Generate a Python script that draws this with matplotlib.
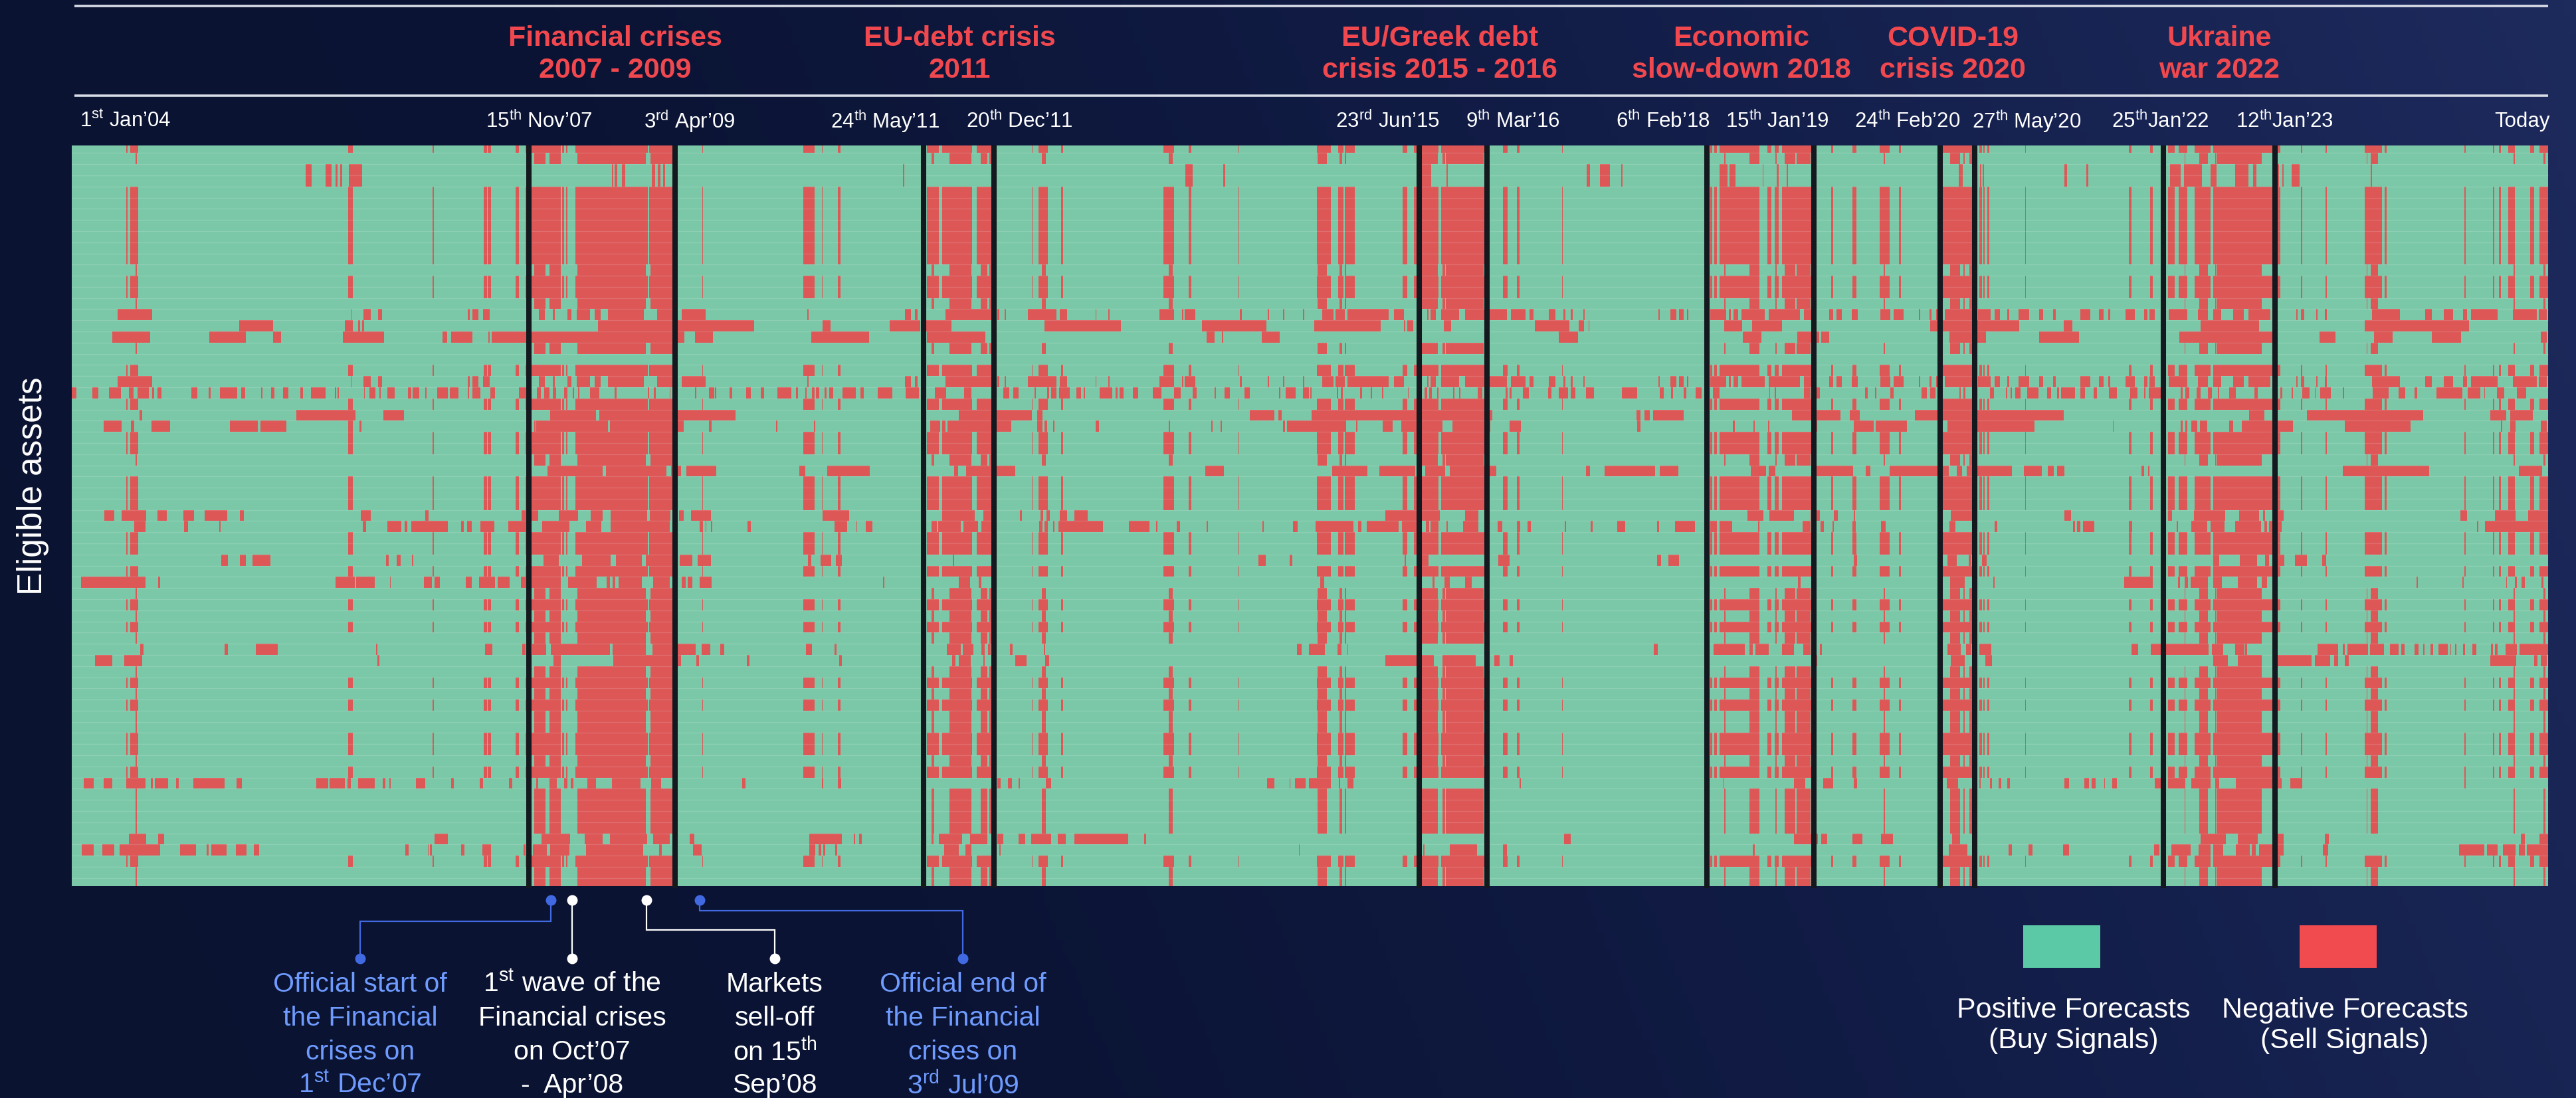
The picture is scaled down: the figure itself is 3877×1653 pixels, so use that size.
import numpy as np
import matplotlib
matplotlib.use('Agg')
import matplotlib.pyplot as plt
from matplotlib.colors import LinearSegmentedColormap
from matplotlib.patches import Rectangle

plt.rcParams['font.family'] = ['Liberation Sans', 'DejaVu Sans']
plt.rcParams['mathtext.fontset'] = 'custom'
plt.rcParams['mathtext.rm'] = 'Liberation Sans'

# Sell-signal runs per asset group, start/end pairs on the time index (0 = Jan'04, 3727 = today)
runs_a = [82,84, 88,100, 416,423, 543,545, 620,625, 626,631, 668,673, 683,736, 738,741, 744,746, 758,867, 869,909,
          949,950, 1101,1118, 1129,1130, 1153,1157, 1287,1305, 1310,1355, 1362,1389, 1445,1446, 1455,1469, 1489,1492,
          1643,1659, 1681,1685, 1756,1757, 1874,1895, 1906,1914, 1916,1931, 2003,2010, 2020,2057, 2061,2128, 2154,2161,
          2175,2179, 2243,2244, 2466,2469, 2472,2476, 2480,2540, 2552,2558, 2563,2569, 2574,2621, 2648,2651, 2680,2686,
          2721,2736, 2750,2753, 2813,2864, 2871,2875, 2877,2879, 2883,2886, 2940,2941, 3096,3100, 3128,3132, 3155,3165,
          3171,3184, 3195,3219, 3223,3324, 3355,3357, 3392,3394, 3451,3477, 3481,3484, 3601,3603, 3644,3646, 3653,3656,
          3667,3677, 3700,3706, 3714,3727]
runs_b = [96,98, 696,713, 719,736, 761,864, 871,909, 1294,1298, 1321,1354, 1368,1378, 1381,1385, 1460,1466, 1651,1657,
          1875,1889, 1908,1912, 1916,1918, 2032,2056, 2063,2067, 2068,2125, 2487,2489, 2525,2540, 2564,2566, 2578,2594,
          2596,2617, 2727,2729, 2827,2842, 2847,2849, 2856,2861, 3180,3181, 3202,3215, 3226,3227, 3228,3296, 3317,3320,
          3454,3455, 3460,3471, 3675,3677, 3720,3723]
runs_c = [352,361, 382,391, 397,400, 404,407, 417,437, 813,815, 817,821, 828,833, 873,878, 882,886, 890,893, 1251,1253,
          1676,1687, 1733,1736, 2032,2046, 2069,2071, 2280,2285, 2300,2315, 2332,2334, 2480,2492, 2495,2504, 2545,2546,
          2566,2569, 2581,2583, 2840,2846, 2872,2874, 2876,2878, 2999,3003, 3032,3035, 3158,3174, 3179,3206, 3219,3228,
          3256,3276, 3283,3288, 3317,3322, 3327,3329, 3341,3353, 3460,3462]
runs_d = [69,121, 420,421, 439,450, 461,467, 596,599, 603,612, 619,629, 703,712, 724,727, 746,752, 760,780, 787,796,
          807,861, 881,904, 918,954, 1107,1109, 1254,1263, 1269,1273, 1315,1385, 1393,1396, 1404,1406, 1439,1482,
          1487,1498, 1541,1542, 1560,1562, 1637,1659, 1671,1673, 1675,1691, 1758,1761, 1800,1802, 1823,1825, 1853,1855,
          1882,1899, 1902,1916, 1920,1982, 1990,2005, 2040,2042, 2045,2053, 2061,2088, 2097,2160, 2166,2188, 2194,2200,
          2223,2233, 2245,2248, 2256,2259, 2275,2277, 2388,2390, 2406,2415, 2419,2426, 2431,2433, 2466,2490, 2494,2497,
          2501,2508, 2513,2548, 2554,2601, 2607,2626, 2645,2651, 2656,2664, 2679,2688, 2722,2737, 2742,2757, 2780,2782,
          2796,2799, 2806,2808, 2819,2861, 2869,2888, 2894,2902, 2913,2916, 2930,2946, 2961,2967, 2982,2986, 3023,3038,
          3051,3058, 3065,3068, 3091,3105, 3119,3124, 3127,3135, 3156,3184, 3200,3215, 3223,3235, 3253,3269, 3276,3309,
          3348,3350, 3355,3360, 3378,3380, 3391,3394, 3462,3504, 3542,3552, 3570,3584, 3599,3605, 3611,3651, 3674,3710,
          3713,3725]
runs_e = [252,303, 411,423, 431,434, 437,440, 792,1027, 1130,1142, 1231,1277, 1285,1324, 1464,1579, 1701,1798, 1870,1970,
          2005,2007, 2010,2019, 2065,2076, 2202,2254, 2268,2276, 2283,2284, 2487,2514, 2529,2574, 2797,2931, 2998,3011,
          3204,3292, 3451,3608]
runs_f = [61,118, 207,262, 303,315, 408,470, 558,565, 571,603, 627,629, 632,922, 938,965, 1113,1200, 1287,1375, 1708,1720,
          1731,1733, 1791,1818, 2238,2267, 2515,2543, 2597,2630, 2633,2645, 2826,2881, 2961,3021, 3172,3313, 3383,3407,
          3465,3493, 3552,3596, 3716,3725]
runs_g = []
runs_h = [0,7, 31,40, 56,74, 86,93, 99,116, 121,124, 129,135, 180,189, 206,209, 223,249, 255,261, 285,287, 300,305, 318,326,
          344,348, 360,382, 396,398, 400,402, 440,441, 448,457, 463,465, 475,486, 506,511, 513,523, 532,534, 550,566, 569,582,
          596,598, 603,615, 630,637, 673,685, 700,706, 711,719, 724,729, 741,746, 754,756, 762,764, 780,794, 817,820, 867,869,
          876,879, 900,901, 938,940, 959,967, 968,970, 990,994, 1015,1022, 1037,1042, 1062,1083, 1090,1093, 1104,1106,
          1114,1118, 1120,1125, 1133,1136, 1140,1146, 1160,1180, 1187,1192, 1213,1235, 1255,1275, 1299,1316, 1343,1354,
          1402,1411, 1417,1425, 1449,1451, 1468,1471, 1474,1482, 1486,1502, 1512,1519, 1523,1525, 1547,1566, 1571,1574,
          1577,1583, 1597,1605, 1627,1640, 1659,1669, 1687,1693, 1720,1722, 1735,1743, 1765,1773, 1817,1819, 1827,1842,
          1853,1862, 1864,1866, 1904,1906, 1910,1913, 1939,1942, 1955,1957, 1972,1974, 2011,2012, 2036,2040, 2043,2047,
          2055,2057, 2079,2081, 2088,2090, 2116,2123, 2158,2161, 2164,2167, 2184,2193, 2222,2227, 2238,2252, 2256,2263,
          2279,2291, 2333,2356, 2390,2396, 2407,2410, 2426,2430, 2444,2453, 2470,2480, 2555,2556, 2563,2565, 2607,2617,
          2625,2631, 2699,2703, 2714,2716, 2737,2742, 2784,2792, 2797,2805, 2841,2843, 2847,2850, 2887,2893, 2911,2913,
          2918,2920, 2925,2933, 2943,2960, 2973,2979, 2988,2991, 2994,3015, 3023,3030, 3043,3048, 3066,3078, 3098,3109,
          3119,3121, 3126,3144, 3174,3177, 3181,3187, 3198,3204, 3215,3221, 3230,3232, 3247,3257, 3285,3290, 3324,3327,
          3341,3343, 3357,3368, 3376,3377, 3384,3400, 3418,3420, 3463,3487, 3502,3512, 3526,3530, 3559,3598, 3606,3625,
          3631,3632, 3650,3661, 3680,3694]
runs_i = [102,106, 338,427, 469,500, 720,789, 794,999, 1335,1445, 1453,1461, 1773,1810, 1816,1821, 1866,2138, 2355,2361,
          2367,2375, 2380,2426, 2589,2662, 2676,2691, 2774,2998, 3277,3300, 3364,3539, 3640,3664, 3670,3704]
runs_j = [48,75, 89,94, 120,148, 238,280, 284,323, 416,423, 433,436, 696,698, 699,807, 810,921, 959,963, 1060,1062,
          1117,1119, 1292,1307, 1310,1315, 1318,1414, 1453,1461, 1464,1468, 1477,1479, 1541,1546, 1651,1653, 1715,1717,
          1729,1731, 1823,1826, 1829,1918, 1933,1935, 1973,1988, 2001,2063, 2078,2135, 2164,2181, 2356,2361, 2500,2503,
          2531,2533, 2553,2555, 2620,2627, 2682,2712, 2715,2762, 2823,2954, 3072,3073, 3174,3177, 3181,3184, 3190,3199,
          3203,3214, 3247,3253, 3266,3343, 3421,3520, 3656,3658, 3670,3678, 3716,3725]
runs_k = [716,799, 804,895, 902,917, 925,970, 1095,1104, 1137,1201, 1328,1334, 1346,1420, 1706,1734, 1897,1950, 1968,2022,
          2037,2067, 2074,2144, 2279,2285, 2307,2383, 2390,2418, 2527,2550, 2554,2564, 2625,2681, 2700,2707, 2736,2825,
          2837,2845, 2852,2920, 2938,2965, 2974,2983, 2988,2999, 3115,3119, 3125,3127, 3418,3548, 3683,3718]
runs_l = [49,64, 75,112, 129,143, 168,184, 200,234, 253,259, 435,450, 532,537, 677,702, 733,762, 781,799, 811,866, 870,901,
          914,921, 932,962, 1130,1170, 1310,1359, 1372,1385, 1427,1430, 1458,1462, 1467,1472, 1487,1498, 1509,1529,
          1977,2059, 2097,2117, 2522,2546, 2555,2592, 2617,2631, 2652,2658, 2682,2684, 2828,2861, 2999,3009, 3155,3161,
          3194,3241, 3262,3292, 3298,3301, 3317,3329, 3595,3605, 3647,3678, 3697,3727]
runs_m = [94,111, 169,175, 222,224, 438,443, 475,496, 501,505, 511,566, 586,590, 595,602, 615,636, 657,685, 708,749, 774,797,
          811,900, 945,950, 954,955, 962,964, 1017,1022, 1148,1167, 1181,1182, 1195,1205, 1294,1302, 1304,1338, 1342,1364,
          1369,1385, 1456,1461, 1464,1469, 1477,1479, 1485,1552, 1591,1622, 1632,1634, 1663,1668, 1708,1710, 1792,1794,
          1838,1845, 1872,1929, 1936,1941, 1949,1997, 2002,2025, 2038,2043, 2045,2057, 2069,2071, 2094,2117, 2146,2153,
          2175,2180, 2191,2196, 2247,2249, 2286,2289, 2326,2338, 2386,2389, 2413,2443, 2466,2476, 2480,2499, 2538,2540,
          2605,2617, 2632,2637, 2650,2652, 2680,2685, 2723,2730, 2826,2835, 2894,2898, 3012,3015, 3018,3023, 3027,3044,
          3096,3101, 3168,3170, 3190,3214, 3219,3240, 3256,3295, 3300,3304, 3307,3326, 3620,3622, 3632,3727]
runs_n = [225,235, 253,262, 272,299, 473,477, 489,495, 512,514, 710,733, 768,811, 819,858, 864,909, 915,934, 942,962,
          1108,1113, 1127,1143, 1150,1159, 1326,1328, 1786,1797, 1833,1837, 2006,2008, 2032,2042, 2147,2164, 2386,2392,
          2403,2419, 2682,2687, 2823,2837, 2855,2859, 2875,2882, 3223,3232, 3263,3289, 3301,3307, 3317,3330, 3346,3364,
          3387,3393]
runs_o = [14,111, 130,133, 397,426, 428,456, 479,480, 530,542, 546,554, 593,602, 613,637, 641,659, 676,736, 747,790, 805,810,
          814,818, 823,858, 875,900, 918,924, 927,934, 945,963, 1221,1223, 1335,1352, 1365,1369, 1879,1885, 2048,2051,
          2066,2074, 2097,2107, 2598,2602, 2827,2849, 2892,2894, 3089,3132, 3170,3173, 3180,3185, 3189,3215, 3223,3236,
          3260,3289, 3296,3304, 3529,3531, 3598,3600, 3664,3665, 3677,3680, 3687,3692, 3717,3720]
runs_p = [103,108, 230,235, 277,310, 458,460, 622,633, 678,683, 693,714, 721,810, 814,864, 874,939, 948,961, 976,982,
          1105,1114, 1148,1151, 1317,1338, 1341,1357, 1369,1374, 1379,1383, 1412,1416, 1463,1465, 1844,1851, 1862,1886,
          1905,1911, 1920,1921, 2381,2387, 2471,2518, 2525,2530, 2534,2554, 2574,2592, 2606,2617, 2631,2634, 2823,2843,
          2851,2859, 2871,2889, 3100,3110, 3129,3216, 3221,3238, 3256,3270, 3271,3274, 3380,3411, 3418,3421, 3425,3456,
          3459,3480, 3489,3502, 3506,3511, 3526,3532, 3539,3541, 3550,3554, 3562,3576, 3580,3581, 3587,3589, 3599,3602,
          3613,3619, 3641,3644, 3647,3651, 3663,3680, 3684,3727]
runs_q = [35,61, 79,106, 460,463, 725,736, 815,917, 940,944, 1016,1020, 1155,1159, 1325,1330, 1335,1353, 1372,1374,
          1420,1437, 1465,1471, 1977,2050, 2063,2113, 2141,2149, 2164,2169, 2622,2627, 2828,2849, 2880,2890, 3223,3245,
          3260,3296, 3317,3371, 3376,3399, 3405,3411, 3421,3427, 3640,3679, 3706,3711, 3716,3725]
runs_r = [18,33, 48,61, 82,111, 119,122, 125,145, 157,161, 183,230, 248,256, 368,386, 388,411, 415,420, 431,456, 468,472,
          478,480, 518,532, 571,575, 614,619, 658,663, 699,702, 719,730, 741,746, 751,755, 776,789, 813,856, 872,887,
          1009,1014, 1129,1131, 1153,1158, 1393,1398, 1409,1415, 1425,1427, 1466,1474, 1799,1810, 1833,1834, 1841,1857,
          1862,1895, 1907,1909, 1920,1929, 2179,2181, 2486,2487, 2592,2609, 2618,2626, 2636,2651, 2682,2687, 2822,2839,
          2871,2873, 2887,2890, 2900,2904, 2913,2917, 2999,3006, 3029,3036, 3040,3046, 3059,3060, 3071,3078, 3135,3144,
          3155,3181, 3190,3219, 3226,3232, 3257,3326, 3339,3357, 3601,3603]
runs_s = [86,112, 130,139, 546,566, 707,750, 772,799, 810,866, 875,900, 930,937, 1110,1159, 1177,1179, 1185,1189, 1294,1297,
          1305,1340, 1352,1378, 1393,1402, 1425,1435, 1444,1474, 1484,1496, 1509,1590, 1614,1617, 2246,2256, 2592,2628,
          2633,2642, 2680,2695, 2723,2741, 2830,2842, 3204,3242, 3260,3290, 3317,3329, 3391,3397, 3686,3692, 3714,3727]
runs_t = [15,33, 46,64, 72,133, 163,187, 203,206, 210,233, 247,263, 274,282, 502,507, 536,537, 539,542, 586,591, 618,631,
          680,683, 694,715, 720,749, 774,860, 884,888, 935,948, 1110,1119, 1124,1128, 1131,1134, 1149,1152, 1313,1335,
          1345,1354, 1396,1398, 1847,1848, 2034,2036, 2074,2115, 2154,2160, 2530,2533, 2825,2853, 2915,2920, 2945,2951,
          2997,3006, 3134,3142, 3160,3189, 3201,3219, 3223,3238, 3257,3278, 3281,3287, 3292,3329, 3388,3396, 3593,3631,
          3635,3651, 3659,3678, 3683,3692, 3695,3727]

# Which group each of the 67 assets belongs to, top to bottom
row_groups = ['a', 'b', 'c', 'c', 'a', 'a', 'a', 'a', 'a', 'a', 'a', 'b', 'a', 'a', 'b', 'd', 'e', 'f', 'b', 'g',
              'a', 'd', 'h', 'a', 'i', 'j', 'a', 'a', 'b', 'k', 'a', 'a', 'a', 'l', 'm', 'a', 'a', 'n', 'a', 'o',
              'b', 'a', 'b', 'a', 'b', 'p', 'q', 'b', 'a', 'b', 'a', 'b', 'b', 'a', 'a', 'b', 'a', 'r', 'b', 'b',
              'b', 'b', 's', 't', 'a', 'b', 'b']

# Regime change dates on the same time index
regime_dates = [688, 908, 1282, 1388, 2028, 2130, 2461, 2622, 2812, 2864, 3148, 3316]

crisis_titles = ['Financial crises\n2007 - 2009', 'EU-debt crisis\n2011', 'EU/Greek debt\ncrisis 2015 - 2016',
                 'Economic\nslow-down 2018', 'COVID-19\ncrisis 2020', 'Ukraine\nwar 2022']
date_labels = [r'1$^{\mathrm{st}}$ Jan’04', r'15$^{\mathrm{th}}$ Nov’07', r'3$^{\mathrm{rd}}$ Apr’09',
               r'24$^{\mathrm{th}}$ May’11', r'20$^{\mathrm{th}}$ Dec’11', r'23$^{\mathrm{rd}}$ Jun’15',
               r'9$^{\mathrm{th}}$ Mar’16', r'6$^{\mathrm{th}}$ Feb’18', r'15$^{\mathrm{th}}$ Jan’19',
               r'24$^{\mathrm{th}}$ Feb’20', r'27$^{\mathrm{th}}$ May’20', r'25$^{\mathrm{th}}$Jan’22',
               r'12$^{\mathrm{th}}$Jan’23', 'Today']
note_labels = [['Official start of', 'the Financial', 'crises on', r'1$^{\mathrm{st}}$ Dec’07'],
               [r'1$^{\mathrm{st}}$ wave of the', 'Financial crises', 'on Oct’07', '-  Apr’08'],
               ['Markets', 'sell-off', r'on 15$^{\mathrm{th}}$', 'Sep’08'],
               ['Official end of', 'the Financial', 'crises on', r'3$^{\mathrm{rd}}$ Jul’09']]
legend_labels = ['Positive Forecasts\n(Buy Signals)', 'Negative Forecasts\n(Sell Signals)']

groups = {'a': runs_a, 'b': runs_b, 'c': runs_c, 'd': runs_d, 'e': runs_e, 'f': runs_f, 'g': runs_g,
          'h': runs_h, 'i': runs_i, 'j': runs_j, 'k': runs_k, 'l': runs_l, 'm': runs_m, 'n': runs_n,
          'o': runs_o, 'p': runs_p, 'q': runs_q, 'r': runs_r, 's': runs_s, 't': runs_t}

W, H = 3877, 1653
GREEN, RED = '#7BC8A8', '#DD5757'
KEY_GREEN, KEY_RED = '#5BC9A6', '#F14A4F'
TITLE_RED = '#F0484E'
BLUE, LIGHT_BLUE = '#4169E1', '#6F9BFF'

fig = plt.figure(figsize=(W / 100, H / 100), dpi=100)

# Background gradient, dark on the left, lighter top right
bg = fig.add_axes([0, 0, 1, 1], zorder=0)
xx, yy = np.meshgrid(np.linspace(0, 1, 400), np.linspace(0, 1, 200))
bg_cmap = LinearSegmentedColormap.from_list('bg', ['#0A1330', '#0B1434', '#121D48', '#1D2A5C'])
bg.imshow(0.85 * xx + 0.15 * (1 - yy), cmap=bg_cmap, aspect='auto', origin='upper', vmin=0, vmax=1)
bg.axis('off')

# Heatmap
ax = fig.add_axes([108 / W, 1 - 1334 / H, 3730 / W, 1115 / H], zorder=1)
ax.set_facecolor('white')
n_rows = len(row_groups)
for i, name in enumerate(row_groups):
    ax.broken_barh([(0, 3727)], (i, 1), facecolor=GREEN, linewidth=0)
    flat = groups[name]
    spans = [(flat[k], flat[k + 1] - flat[k]) for k in range(0, len(flat), 2)]
    if spans:
        ax.broken_barh(spans, (i, 1), facecolor=RED, linewidth=0)
ax.hlines(np.arange(1, n_rows), 0, 3727, color='white', lw=0.9, alpha=0.14)
ax.vlines(regime_dates, 0.32, n_rows - 0.1, color='#14191F', lw=5.8, clip_on=False, zorder=5)
ax.set_xlim(0, 3730)
ax.set_ylim(66.73, 0.32)
ax.axis('off')

# Everything else sits on a full figure overlay in pixels
ov = fig.add_axes([0, 0, 1, 1], zorder=2)
ov.set_xlim(0, W)
ov.set_ylim(H, 0)
ov.axis('off')
ov.patch.set_alpha(0)

ov.plot([112, 3835], [9, 9], color='#D8DCE6', lw=2.6, solid_capstyle='butt')
ov.plot([112, 3835], [144, 144], color='#D8DCE6', lw=2.6, solid_capstyle='butt')

title_x = [926, 1444, 2167, 2621, 2939, 3340]
for x, label in zip(title_x, crisis_titles):
    ov.text(x, 82, label, color=TITLE_RED, fontsize=31, fontweight='bold', ha='center', va='center', linespacing=1.27)

date_x = [189, 811, 1038, 1332, 1534, 2088, 2277, 2503, 2675, 2871, 3050, 3251, 3438, 3796]
for x, label in zip(date_x, date_labels):
    ov.text(x, 183, label, color='white', fontsize=22.5, ha='center', va='center')

ov.text(50, 732, 'Eligible assets', color='white', fontsize=37, rotation=90, ha='center', va='center')

# Call-outs from the chart to the notes
paths = [([829, 829, 542, 542], [1355, 1387, 1387, 1443], BLUE),
         ([861, 861], [1355, 1443], 'white'),
         ([973, 973, 1166, 1166], [1355, 1400, 1400, 1443], 'white'),
         ([1053, 1053, 1449, 1449], [1355, 1371, 1371, 1443], BLUE)]
for xs, ys, color in paths:
    ov.plot(xs, ys, color=color, lw=1.6, solid_joinstyle='miter')
    ov.plot([xs[0], xs[-1]], [ys[0], ys[-1]], 'o', color=color, ms=11.5, mew=0)

note_x = [542, 861, 1166, 1449]
note_colors = [LIGHT_BLUE, 'white', 'white', LIGHT_BLUE]
note_y = [1482, 1533, 1584, 1634]
for x, lines, color in zip(note_x, note_labels, note_colors):
    for y, line in zip(note_y, lines):
        ov.text(x, y, line, color=color, fontsize=29.5, ha='center', va='center')

# Legend
ov.add_patch(Rectangle((3045, 1393), 116, 64, facecolor=KEY_GREEN, linewidth=0))
ov.add_patch(Rectangle((3461, 1393), 116, 64, facecolor=KEY_RED, linewidth=0))
ov.text(3121, 1544, legend_labels[0], color='white', fontsize=31, ha='center', va='center', linespacing=1.22)
ov.text(3529, 1544, legend_labels[1], color='white', fontsize=31, ha='center', va='center', linespacing=1.22)

fig.savefig('out.png', dpi=100)
